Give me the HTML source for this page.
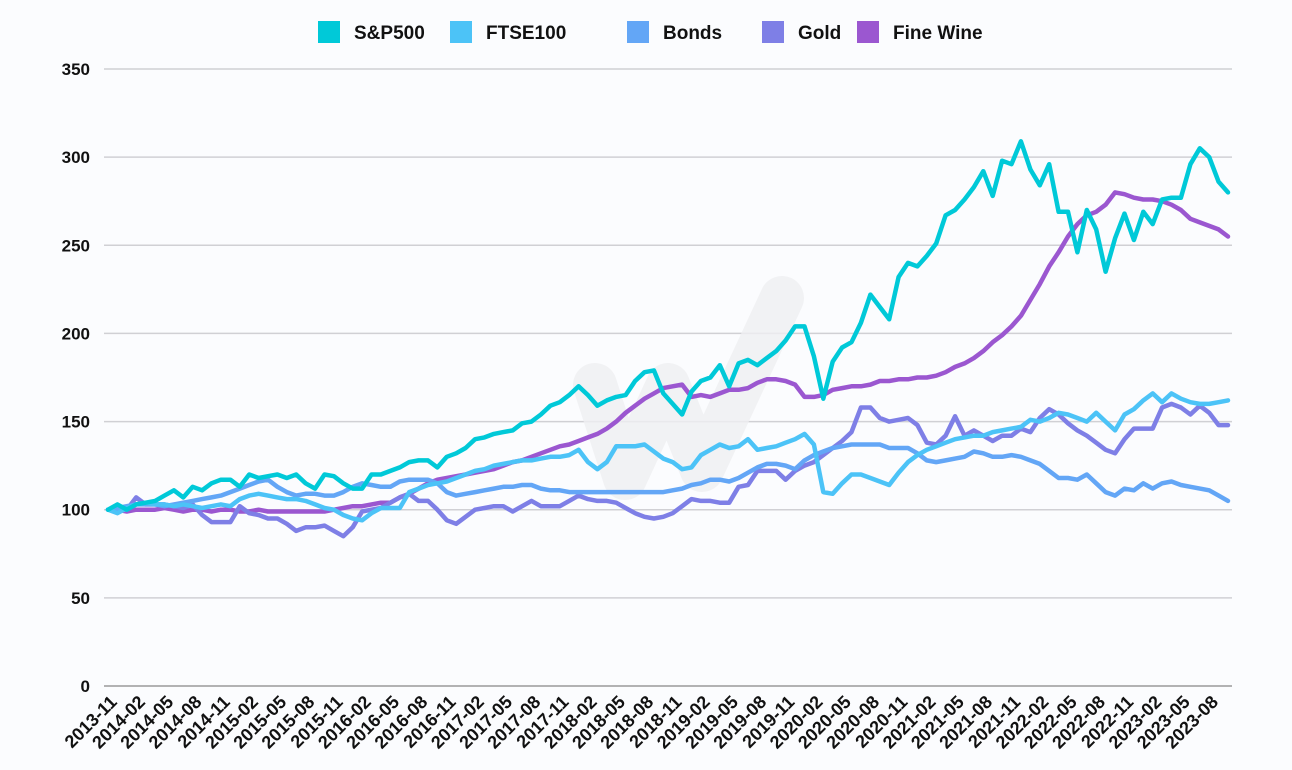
<!DOCTYPE html>
<html><head><meta charset="utf-8"><style>
html,body{margin:0;padding:0;background:#fbfcfe;}
svg{display:block;font-family:"Liberation Sans",sans-serif;}
</style></head><body>
<svg id="chart" width="1292" height="770" viewBox="0 0 1292 770">
<rect width="1292" height="770" fill="#fbfcfe"/>
<g id="grid"></g>
<path d="M595 385 L625 478 L668 385 L702 470 L782 298" stroke="#efeff1" stroke-width="44" fill="none" stroke-linecap="round" stroke-linejoin="round" opacity="0.8"/>
<g id="yaxis"></g>
<g id="xaxis"></g>
<g id="series"></g>
<g id="legend"></g>
</svg>
<script>
const startYear = 2013, startMonth = 11, nMonths = 120;
const yTicks = [0,50,100,150,200,250,300,350];
const seriesNames = ["S&P500","FTSE100","Bonds","Gold","Fine Wine"];
const sp500 = [100,103,100,103,104,105,108,111,107,113,111,115,117,117,113,120,118,119,120,118,
120,115,112,120,119,115,112,112,120,120,122,124,127,128,128,124,130,132,135,140,
141,143,144,145,149,150,154,159,161,165,170,165,159,162,164,165,173,178,179,166,
160,154,167,173,175,182,170,183,185,182,186,190,196,204,204,187,163,184,192,195,
206,222,215,208,232,240,238,244,251,267,270,276,283,292,278,298,296,309,293,284,
296,269,269,246,270,259,235,254,268,253,269,262,276,277,277,296,305,300,286,280];
const ftse = [100,98,101,103,104,103,103,102,103,102,101,102,103,102,106,108,109,108,107,106,
106,105,103,101,100,97,95,94,98,101,101,101,110,112,114,115,116,118,120,122,
123,125,126,127,128,128,129,130,130,131,134,127,123,127,136,136,136,137,133,129,
127,123,124,131,134,137,135,136,140,134,135,136,138,140,143,137,110,109,115,120,
120,118,116,114,121,127,131,134,136,138,140,141,142,142,144,145,146,147,151,150,
152,155,154,152,150,155,150,145,154,157,162,166,161,166,163,161,160,160,161,162];
const bonds = [100,101,102,103,103,103,102,103,104,105,106,107,108,110,112,114,116,117,113,110,
108,109,109,108,108,110,113,115,114,113,113,116,117,117,117,115,110,108,109,110,
111,112,113,113,114,114,112,111,111,110,110,110,110,110,110,110,110,110,110,110,
111,112,114,115,117,117,116,118,121,124,126,126,125,123,128,131,133,135,136,137,
137,137,137,135,135,135,132,128,127,128,129,130,133,132,130,130,131,130,128,126,
122,118,118,117,120,115,110,108,112,111,115,112,115,116,114,113,112,111,108,105];
const gold = [100,100,100,107,103,103,103,102,101,103,97,93,93,93,102,98,97,95,95,92,
88,90,90,91,88,85,90,99,100,101,104,107,109,105,105,100,94,92,96,100,
101,102,102,99,102,105,102,102,102,105,108,106,105,105,104,101,98,96,95,96,
98,102,106,105,105,104,104,113,114,122,122,122,117,122,125,127,131,135,139,144,
158,158,152,150,151,152,148,138,137,142,153,142,145,142,139,142,142,146,144,152,
157,154,149,145,142,138,134,132,140,146,146,146,158,160,158,154,159,155,148,148];
const wine = [100,100,99,100,100,100,101,100,99,100,100,99,100,100,99,99,100,99,99,99,
99,99,99,99,100,101,102,102,103,104,104,107,109,112,115,117,118,119,120,121,
122,123,125,127,128,130,132,134,136,137,139,141,143,146,150,155,159,163,166,169,
170,171,164,165,164,166,168,168,169,172,174,174,173,171,164,164,165,168,169,170,
170,171,173,173,174,174,175,175,176,178,181,183,186,190,195,199,204,210,219,228,
238,246,255,262,267,269,273,280,279,277,276,276,275,273,270,265,263,261,259,255];
const seriesColors = ["#00c9d8","#4cc3f7","#63a6f6","#7e7fe6","#9b57d0"];

const NS="http://www.w3.org/2000/svg";
const X0=108, X1=1228, Y0=686, YTOP=69, VMAX=350;
function xScale(i){return X0+(X1-X0)*i/(nMonths-1);}
function yScale(v){return Y0-(Y0-YTOP)*v/VMAX;}
function mk(tag,attrs,parent){const e=document.createElementNS(NS,tag);for(const k in attrs)e.setAttribute(k,attrs[k]);parent.appendChild(e);return e;}

const grid=document.getElementById('grid'), yaxis=document.getElementById('yaxis');
yTicks.forEach(t=>{
  const l=mk('line',{x1:104,x2:1232,y1:yScale(t),y2:yScale(t),stroke:t===0?'#9a9a9a':'#d0d0d4','stroke-width':1.5},grid);
  
  
  const tx=mk('text',{x:90,y:yScale(t)+6,'text-anchor':'end','font-size':17,'font-weight':'bold',fill:'#111'},yaxis);
  tx.textContent=t;
  
  
});

const xaxis=document.getElementById('xaxis');
for(let i=0;i<nMonths;i+=3){
  const m=(startMonth-1+i)%12+1, y=startYear+Math.floor((startMonth-1+i)/12);
  if(i>117)break;
  const lbl=y+'-'+String(m).padStart(2,'0');
  const x=xScale(i)+10, yy=703;
  const tx=mk('text',{x:x,y:yy,'text-anchor':'end','font-size':18,'font-weight':'bold',fill:'#111',transform:`rotate(-45 ${x} ${yy})`},xaxis);
  tx.textContent=lbl;
  
  
}

const seriesData=[sp500,ftse,bonds,gold,wine];
const sg=document.getElementById('series');
[4,3,2,1,0].forEach(s=>{
  const d=seriesData[s].map((v,i)=>(i?'L':'M')+xScale(i).toFixed(1)+' '+yScale(v).toFixed(1)).join(' ');
  const p=mk('path',{d:d,fill:'none',stroke:seriesColors[s],'stroke-width':4.5,'stroke-linejoin':'round','stroke-linecap':'round'},sg);
  
  
});

const lg=document.getElementById('legend');
const sqX=[318,450,627,762,857];
seriesNames.forEach((n,s)=>{
  const r=mk('rect',{x:sqX[s],y:21,width:22,height:22,fill:seriesColors[s]},lg);
  
  
  const tx=mk('text',{x:sqX[s]+36,y:39,'font-size':19,'font-weight':'bold',fill:'#111'},lg);
  tx.textContent=n;
  
  
});
</script>
</body></html>
